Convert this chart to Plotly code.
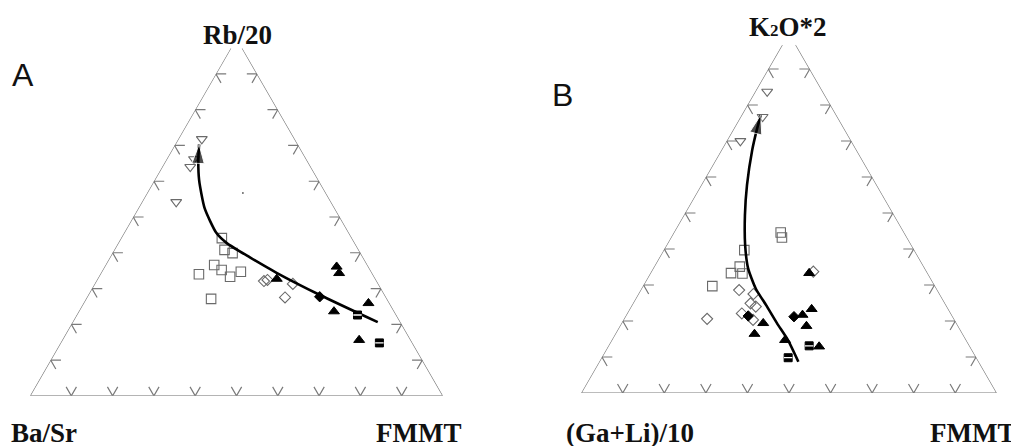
import plotly.graph_objects as go

W, H = 1019, 446

# ---------------- Panel A data (a = Rb/20, b = Ba/Sr, c = FMMT) ----------------
A_tri_open_a = [0.718, 0.662, 0.640, 0.542]
A_tri_open_b = [0.225, 0.272, 0.292, 0.375]
A_tri_open_c = [0.057, 0.066, 0.068, 0.083]

A_sq_open_a = [0.441, 0.408, 0.399, 0.366, 0.352, 0.333, 0.347, 0.340, 0.271]
A_sq_open_b = [0.315, 0.325, 0.310, 0.371, 0.360, 0.349, 0.316, 0.421, 0.426]
A_sq_open_c = [0.244, 0.267, 0.291, 0.263, 0.288, 0.318, 0.337, 0.239, 0.303]

A_dia_open_a = [0.321, 0.324, 0.313, 0.275]
A_dia_open_b = [0.273, 0.263, 0.207, 0.245]
A_dia_open_c = [0.406, 0.413, 0.480, 0.480]

A_dia_fill_a = [0.277]
A_dia_fill_b = [0.160]
A_dia_fill_c = [0.563]

A_tri_fill_a = [0.327, 0.361, 0.343, 0.259, 0.236, 0.156]
A_tri_fill_b = [0.239, 0.077, 0.080, 0.051, 0.146, 0.125]
A_tri_fill_c = [0.434, 0.562, 0.577, 0.690, 0.618, 0.719]

A_sq_half_a = [0.226, 0.148]
A_sq_half_b = [0.094, 0.080]
A_sq_half_c = [0.680, 0.772]

A_dot_a = [0.567]
A_dot_b = [0.201]
A_dot_c = [0.232]

A_path_a = [0.206, 0.282, 0.344, 0.387, 0.427, 0.455, 0.524, 0.603, 0.659, 0.703]
A_path_b = [0.055, 0.157, 0.231, 0.274, 0.310, 0.321, 0.315, 0.289, 0.263, 0.239]
A_path_c = [0.739, 0.561, 0.425, 0.339, 0.263, 0.224, 0.161, 0.108, 0.078, 0.058]

# ---------------- Panel B data (a = K2O*2, b = (Ga+Li)/10, c = FMMT) ----------------
B_tri_open_a = [0.837, 0.767, 0.700]
B_tri_open_b = [0.134, 0.180, 0.267]
B_tri_open_c = [0.029, 0.053, 0.033]

B_sq_open_a = [0.397, 0.351, 0.333, 0.332, 0.297, 0.446, 0.432]
B_sq_open_b = [0.409, 0.443, 0.473, 0.446, 0.536, 0.297, 0.301]
B_sq_open_c = [0.194, 0.206, 0.194, 0.222, 0.167, 0.257, 0.267]

B_dia_open_a = [0.286, 0.275, 0.249, 0.240, 0.221, 0.203, 0.206, 0.337]
B_dia_open_b = [0.477, 0.448, 0.468, 0.460, 0.503, 0.485, 0.594, 0.273]
B_dia_open_c = [0.237, 0.277, 0.283, 0.300, 0.276, 0.312, 0.200, 0.390]

B_dia_fill_a = [0.214, 0.212]
B_dia_fill_b = [0.491, 0.382]
B_dia_fill_c = [0.295, 0.406]

B_tri_fill_a = [0.194, 0.164, 0.333, 0.233, 0.217, 0.186, 0.129, 0.147]
B_tri_fill_b = [0.465, 0.501, 0.285, 0.329, 0.359, 0.365, 0.363, 0.436]
B_tri_fill_c = [0.341, 0.335, 0.382, 0.438, 0.424, 0.449, 0.508, 0.417]

B_sq_half_a = [0.131, 0.098]
B_sq_half_b = [0.386, 0.453]
B_sq_half_c = [0.483, 0.449]

B_path_a = [0.087, 0.147, 0.194, 0.244, 0.289, 0.347, 0.411, 0.494, 0.578, 0.675, 0.731, 0.772]
B_path_b = [0.434, 0.429, 0.432, 0.433, 0.435, 0.425, 0.400, 0.359, 0.312, 0.251, 0.212, 0.182]
B_path_c = [0.479, 0.424, 0.374, 0.323, 0.276, 0.228, 0.189, 0.147, 0.110, 0.074, 0.057, 0.046]

# axis titles
A_labels = ["Rb/20", "Ba/Sr", "FMMT"]
B_labels = ["K<span style='font-size:17px'>2</span>O*2", "(Ga+Li)/10", "FMMT"]
tick_values = [0.1, 0.2, 0.3, 0.4, 0.5, 0.6, 0.7, 0.8, 0.9]

GRAY = "#7a7a7a"
MGRAY = "#6a6a6a"

fig = go.Figure()


def frame_and_ticks(sub, top_frac):
    # triangle outline, truncated near apex
    fa = [top_frac, 0, 0, top_frac]
    fb = [1 - top_frac, 1, 0, 0]
    fc = [0, 0, 1, 1 - top_frac]
    fig.add_trace(go.Scatterternary(a=fa, b=fb, c=fc, mode="lines", subplot=sub,
                                    line=dict(color=GRAY, width=1.2), hoverinfo="skip",
                                    showlegend=False))
    L = 0.025
    ta, tb, tc = [], [], []
    for t in tick_values:
        # bottom side (a=0): V
        ta += [L, 0, L, None]
        tb += [1 - t - L, 1 - t, 1 - t, None]
        tc += [t, t, t - L, None]
        # left side (c=0): <
        ta += [t, t, t - L, None]
        tb += [1 - t - L, 1 - t, 1 - t, None]
        tc += [L, 0, L, None]
        # right side (b=0): >
        ta += [t, t, t - L, None]
        tb += [L, 0, L, None]
        tc += [1 - t - L, 1 - t, 1 - t, None]
    fig.add_trace(go.Scatterternary(a=ta, b=tb, c=tc, mode="lines", subplot=sub,
                                    connectgaps=False,
                                    line=dict(color=GRAY, width=1.2), hoverinfo="skip",
                                    showlegend=False))


def pts(sub, a, b, c, symbol, size, color, lcolor, lw=1.0):
    fig.add_trace(go.Scatterternary(a=a, b=b, c=c, mode="markers", subplot=sub,
                                    marker=dict(symbol=symbol, size=size, color=color,
                                                line=dict(color=lcolor, width=lw)),
                                    showlegend=False))


def half_sq(sub, a, b, c):
    pts(sub, a, b, c, "square", 8, "black", "black", 1)
    pts(sub, a, b, c, "line-ew", 6, "white", "white", 1.3)


def arrow_path(sub, a, b, c):
    sizes = [0] * (len(a) - 1) + [20]
    fig.add_trace(go.Scatterternary(a=a, b=b, c=c, mode="lines+markers", subplot=sub,
                                    line=dict(color="black", width=2.6, shape="spline",
                                              smoothing=0.6),
                                    marker=dict(symbol="arrow", size=sizes, color="black",
                                                angleref="previous"),
                                    showlegend=False))


# Panel A
frame_and_ticks("ternary", 0.972)
pts("ternary", A_sq_open_a, A_sq_open_b, A_sq_open_c, "square-open", 9.5, MGRAY, MGRAY, 1.1)
pts("ternary", A_tri_open_a, A_tri_open_b, A_tri_open_c, "triangle-down-open", 9.5, MGRAY, MGRAY, 1.1)
pts("ternary", A_dia_open_a, A_dia_open_b, A_dia_open_c, "diamond-open", 8.5, MGRAY, MGRAY, 1.1)
pts("ternary", A_dot_a, A_dot_b, A_dot_c, "circle", 2, MGRAY, MGRAY, 0)
arrow_path("ternary", A_path_a, A_path_b, A_path_c)
pts("ternary", A_dia_fill_a, A_dia_fill_b, A_dia_fill_c, "diamond", 8, "black", "black", 1)
pts("ternary", A_tri_fill_a, A_tri_fill_b, A_tri_fill_c, "triangle-up", 9.5, "black", "black", 1)
half_sq("ternary", A_sq_half_a, A_sq_half_b, A_sq_half_c)

# Panel B
frame_and_ticks("ternary2", 0.967)
pts("ternary2", B_sq_open_a, B_sq_open_b, B_sq_open_c, "square-open", 9.5, MGRAY, MGRAY, 1.1)
pts("ternary2", B_tri_open_a, B_tri_open_b, B_tri_open_c, "triangle-down-open", 9.5, MGRAY, MGRAY, 1.1)
pts("ternary2", B_dia_open_a, B_dia_open_b, B_dia_open_c, "diamond-open", 8.5, MGRAY, MGRAY, 1.1)
arrow_path("ternary2", B_path_a, B_path_b, B_path_c)
pts("ternary2", B_dia_fill_a, B_dia_fill_b, B_dia_fill_c, "diamond", 8, "black", "black", 1)
pts("ternary2", B_tri_fill_a, B_tri_fill_b, B_tri_fill_c, "triangle-up", 9.5, "black", "black", 1)
half_sq("ternary2", B_sq_half_a, B_sq_half_b, B_sq_half_c)

hidden = dict(showline=False, showgrid=False, showticklabels=False, ticks="",
              title=dict(text=""), linewidth=0)

# the page body has a default 8px margin, so everything is placed 8px up-left
OFF = 8


def tern(x0, x1, ytop, ybot):
    x0 -= OFF
    x1 -= OFF
    ytop -= OFF
    ybot -= OFF
    return dict(domain=dict(x=[x0 / W, x1 / W], y=[1 - ybot / H, 1 - ytop / H]),
                bgcolor="rgba(0,0,0,0)", sum=1,
                aaxis=hidden, baxis=hidden, caxis=hidden)


serif = "Liberation Serif, Times New Roman, serif"
sans = "Liberation Sans, Arial, sans-serif"
annots = []


def label(text, x, y, size, family, bold=True):
    xx, yy = (x - OFF) / W, 1 - (y - OFF) / H
    annots.append(dict(text=text, x=xx, y=yy, xref="paper", yref="paper", showarrow=False,
                       xanchor="center", yanchor="middle", borderpad=0,
                       font=dict(family=family, size=size, color="#111111",
                                 weight="bold" if bold else "normal")))


label(A_labels[0], 237, 35, 27, serif)
label(A_labels[1], 44, 433, 27, serif)
label(A_labels[2], 418, 433, 27, serif)
label(B_labels[0], 788, 27, 27, serif)
label(B_labels[1], 630, 433, 27, serif)
label(B_labels[2], 972, 433, 27, serif)
label("A", 23, 75, 32, sans, bold=False)
label("B", 562, 95, 32, sans, bold=False)

fig.update_layout(
    width=W, height=H,
    margin=dict(l=0, r=0, t=0, b=0),
    paper_bgcolor="white", plot_bgcolor="white",
    ternary=tern(30, 443, 38, 396),
    ternary2=tern(581, 997, 33, 393),
    annotations=annots,
    showlegend=False,
)

fig.write_html("out.html")
